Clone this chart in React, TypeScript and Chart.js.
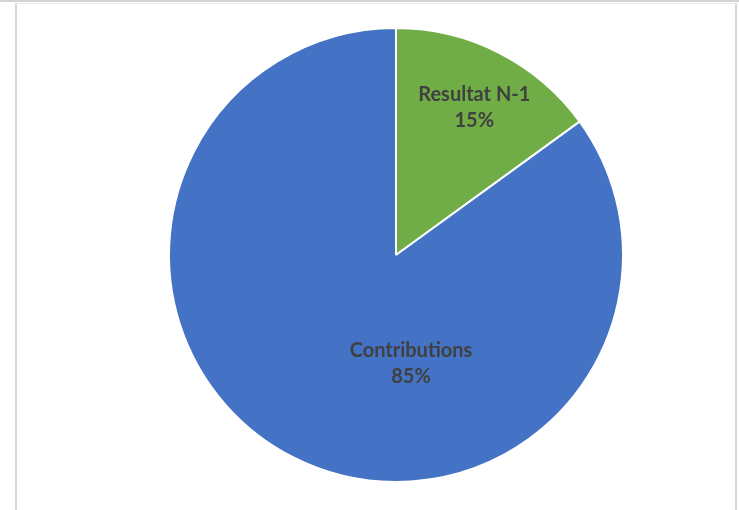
import React, { useEffect, useRef } from "react";
import { Chart, registerables } from "chart.js";

Chart.register(...registerables);

const categories: string[] = ["Resultat N-1", "Contributions"];
const values: number[] = [15, 85];
const colors: string[] = ["#70AD47", "#4472C4"];
// label placement relative to pie centre, as fractions of radius
const labelOffsetX: number[] = [0.345, 0.066];
const labelOffsetY: number[] = [-0.65, 0.478];

const labelPlugin = {
  id: "pieLabels",
  afterDatasetsDraw(chart: any) {
    const { ctx } = chart;
    const meta = chart.getDatasetMeta(0);
    const total = values.reduce((a, b) => a + b, 0);
    ctx.save();
    ctx.font = "bold 20px Lato";
    ctx.fillStyle = "#404040";
    ctx.textAlign = "center";
    ctx.textBaseline = "middle";
    meta.data.forEach((arc: any, i: number) => {
      const r = arc.outerRadius;
      const cx = arc.x + labelOffsetX[i] * r;
      const cy = arc.y + labelOffsetY[i] * r;
      const pct = Math.round((values[i] / total) * 100) + "%";
      ctx.fillText(categories[i], cx, cy - 13);
      ctx.fillText(pct, cx, cy + 13);
    });
    ctx.restore();
  },
};

export default function App() {
  const ref = useRef<HTMLCanvasElement | null>(null);
  useEffect(() => {
    document.body.style.margin = "0";
    const chart = new Chart(ref.current!, {
      type: "pie",
      data: {
        labels: categories,
        datasets: [
          {
            data: values,
            backgroundColor: colors,
            borderColor: "#ffffff",
            borderWidth: 2,
          },
        ],
      },
      options: {
        animation: false,
        responsive: false,
        layout: { padding: { top: 27, bottom: 27, left: 168, right: 115 } },
        plugins: {
          legend: { display: false },
          tooltip: { enabled: false },
        },
      },
      plugins: [labelPlugin],
    });
    return () => chart.destroy();
  }, []);
  return (
    <div style={{ position: "relative", width: 739, height: 510, background: "#fff", overflow: "hidden" }}>
      <div style={{ position: "absolute", left: 0, top: 0, width: 739, height: 2, background: "#d4d4d4" }} />
      <div
        style={{
          position: "absolute",
          left: 15,
          top: 3,
          width: 718,
          height: 520,
          borderLeft: "2px solid #d9d9d9",
          borderRight: "2px solid #d9d9d9",
          borderTop: "1px solid #ececec",
        }}
      />
      <canvas ref={ref} width={739} height={510} style={{ position: "absolute", left: 0, top: 0 }} />
    </div>
  );
}
